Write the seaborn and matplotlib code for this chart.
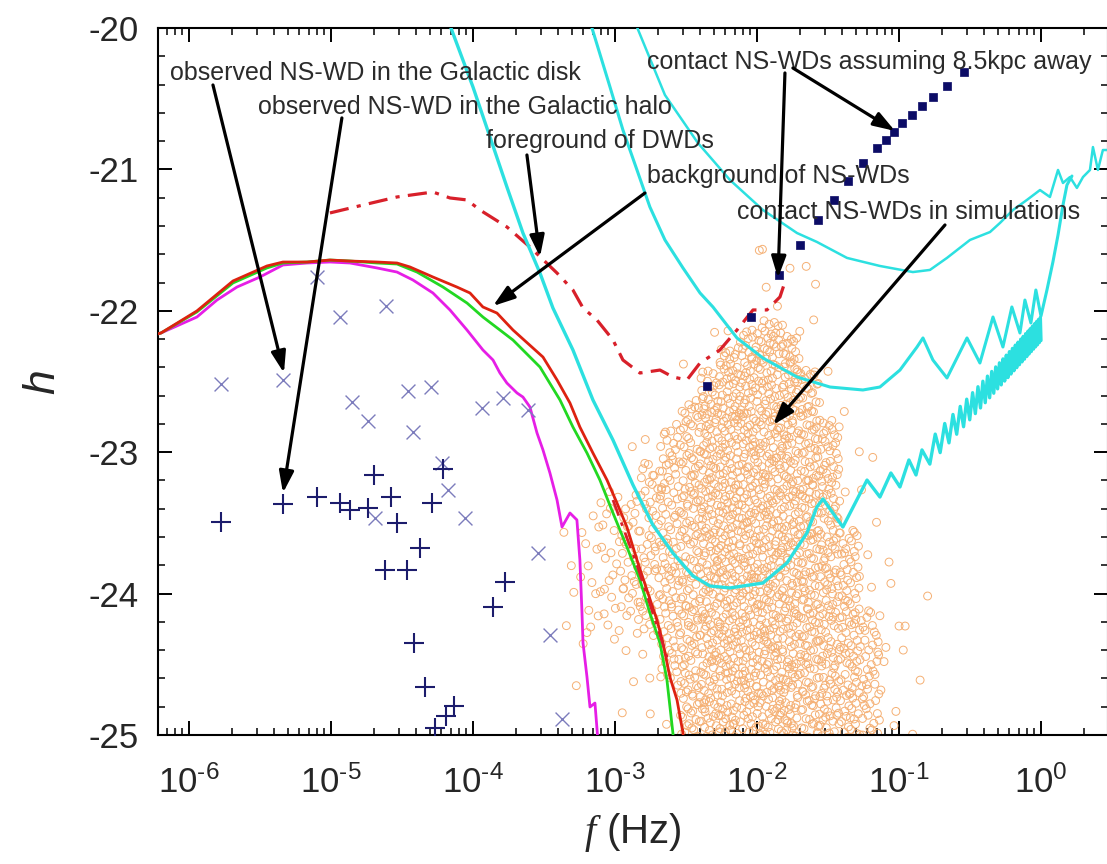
import numpy as np
import pandas as pd
import matplotlib
matplotlib.use("Agg")
import matplotlib.pyplot as plt
import seaborn as sns
from matplotlib.ticker import FixedLocator, LogLocator, MultipleLocator, FuncFormatter, NullFormatter

# ------------------------------------------------------------------
# Data: frequencies are stored as log10(f / Hz), strains as log10(h)
# ------------------------------------------------------------------

# NS-WD background curves (three population models)
magenta_logf = [-6.275, -6.197, -5.944, -5.803, -5.662, -5.500, -5.338, -5.169, -5.007, -4.866,
                -4.676, -4.535, -4.423, -4.282, -4.162, -4.042, -3.930, -3.859, -3.810, -3.761,
                -3.690, -3.648, -3.599, -3.549, -3.507, -3.458, -3.408, -3.373, -3.317, -3.268,
                -3.247, -3.233, -3.225, -3.197, -3.176, -3.141, -3.120]
magenta_h = [-22.178, -22.157, -22.044, -21.924, -21.832, -21.761, -21.676, -21.662, -21.655, -21.662,
             -21.697, -21.726, -21.782, -21.874, -21.994, -22.136, -22.277, -22.348, -22.440, -22.511,
             -22.581, -22.610, -22.680, -22.864, -22.984, -23.147, -23.338, -23.529, -23.430, -23.479,
             -23.762, -24.116, -24.349, -24.590, -24.802, -24.774, -25.040]

green_logf = [-6.275, -6.197, -5.944, -5.690, -5.451, -5.338, -5.169, -5.007, -4.866, -4.676,
              -4.535, -4.394, -4.211, -4.042, -3.930, -3.810, -3.718, -3.528, -3.387, -3.296,
              -3.197, -3.106, -3.014, -2.916, -2.824, -2.754, -2.683, -2.634, -2.592, -2.585]
green_h = [-22.178, -22.157, -22.008, -21.803, -21.697, -21.662, -21.655, -21.641, -21.648, -21.662,
           -21.669, -21.726, -21.832, -21.945, -22.044, -22.136, -22.207, -22.398, -22.631, -22.822,
           -23.006, -23.197, -23.430, -23.670, -23.904, -24.137, -24.349, -24.611, -24.986, -25.070]

red_logf = [-6.275, -6.197, -5.944, -5.690, -5.451, -5.338, -5.169, -5.007, -4.866, -4.676,
            -4.535, -4.444, -4.282, -4.113, -4.021, -3.930, -3.831, -3.718, -3.507, -3.408,
            -3.317, -3.247, -3.155, -3.056, -2.986, -2.916, -2.845, -2.775, -2.704, -2.662,
            -2.613, -2.563, -2.521, -2.514]
red_h = [-22.178, -22.157, -22.001, -21.789, -21.683, -21.655, -21.655, -21.641, -21.648, -21.655,
         -21.662, -21.690, -21.761, -21.832, -21.874, -21.973, -22.016, -22.136, -22.327, -22.489,
         -22.652, -22.822, -23.006, -23.197, -23.359, -23.529, -23.762, -23.975, -24.187, -24.349,
         -24.590, -24.752, -24.986, -25.070]

# DWD foreground (dash-dot)
dwd_logf = [-5.007, -4.775, -4.535, -4.282, -4.162, -4.042, -3.951, -3.761, -3.599, -3.408,
            -3.296, -3.225, -3.127, -3.014, -2.944, -2.824, -2.683, -2.592, -2.493, -2.401,
            -2.261, -2.141, -2.028, -1.930, -1.838, -1.810]
dwd_h = [-21.308, -21.252, -21.195, -21.160, -21.202, -21.216, -21.287, -21.407, -21.549, -21.733,
         -21.853, -21.980, -22.065, -22.206, -22.348, -22.440, -22.419, -22.468, -22.489, -22.369,
         -22.277, -22.136, -21.994, -21.994, -21.902, -21.817]
dwd_low_logf = [-3.014, -2.923, -2.838, -2.754, -2.683, -2.627]
dwd_low_h = [-23.338, -23.586, -23.819, -24.073, -24.293, -24.470]

# Detector sensitivity curves
det1_logf = [-4.176, -4.000, -3.880, -3.761, -3.648, -3.528, -3.437, -3.296, -3.155, -3.014,
             -2.873, -2.733, -2.592, -2.451, -2.331, -2.190, -1.958, -1.789, -1.648, -1.578,
             -1.535, -1.395, -1.225, -1.134, -1.057, -0.993, -0.930, -0.880, -0.838,
             -0.7825, -0.7447, -0.7100, -0.6778, -0.6478, -0.6198, -0.5935, -0.5687,
             -0.5452, -0.5229, -0.5017, -0.4815, -0.4622, -0.4437, -0.4260, -0.4090,
             -0.3926, -0.3768, -0.3615, -0.3468, -0.3326, -0.3188, -0.3054, -0.2925,
             -0.2799, -0.2676, -0.2557, -0.2441, -0.2329, -0.2219, -0.2111, -0.2007,
             -0.1905, -0.1805, -0.1707, -0.1612, -0.1518, -0.1427, -0.1337, -0.1250,
             -0.1164, -0.1079, -0.0997, -0.0915, -0.0836, -0.0757, -0.0681, -0.0605,
             -0.0531, -0.0458, -0.0386, -0.0315, -0.0246, -0.0178, -0.0110, -0.0044, 0.0]
det1_h = [-19.943, -20.417, -20.771, -21.124, -21.450, -21.733, -21.980, -22.277, -22.631, -22.914,
          -23.232, -23.515, -23.713, -23.875, -23.946, -23.960, -23.925, -23.783, -23.571, -23.387,
          -23.331, -23.529, -23.197, -23.317, -23.147, -23.246, -23.055, -23.161, -22.984,
          -23.084, -22.872, -23.003, -22.797, -22.934, -22.733, -22.873, -22.676,
          -22.820, -22.625, -22.771, -22.579, -22.727, -22.537, -22.687, -22.498,
          -22.650, -22.462, -22.615, -22.429, -22.583, -22.397, -22.552, -22.368,
          -22.524, -22.340, -22.497, -22.314, -22.472, -22.289, -22.447, -22.266,
          -22.424, -22.243, -22.402, -22.222, -22.381, -22.201, -22.361, -22.181,
          -22.342, -22.162, -22.323, -22.144, -22.305, -22.127, -22.288, -22.110,
          -22.271, -22.093, -22.255, -22.077, -22.240, -22.062, -22.224, -22.047, -22.210]

det2_logf = [-3.190, -3.035, -2.944, -2.845, -2.754, -2.648, -2.521, -2.401, -2.310, -2.141,
             -1.958, -1.718, -1.486, -1.254, -1.134, -0.993, -0.873, -0.831, -0.761, -0.662,
             -0.521, -0.430, -0.338, -0.268, -0.205, -0.148, -0.113, -0.071, -0.036, 0.000,
             0.042, 0.084, 0.120, 0.155, 0.183, 0.218]
det2_h = [-19.908, -20.417, -20.721, -21.004, -21.266, -21.499, -21.697, -21.874, -21.973, -22.192,
          -22.334, -22.468, -22.539, -22.560, -22.539, -22.419, -22.256, -22.192, -22.348, -22.475,
          -22.192, -22.369, -22.044, -22.256, -21.973, -22.157, -21.924, -22.086, -21.853, -22.037,
          -21.853, -21.655, -21.464, -21.252, -21.110, -21.047]

det3_logf = [-2.880, -2.648, -2.416, -2.190, -1.958, -1.718, -1.578, -1.366, -1.134, -0.902,
             -0.782, -0.662, -0.500, -0.359, -0.289, -0.197, -0.099, -0.007, 0.063, 0.120,
             0.155, 0.204, 0.253, 0.296, 0.345, 0.366, 0.401, 0.436, 0.500]
det3_h = [-19.908, -20.474, -20.813, -21.075, -21.287, -21.450, -21.513, -21.626, -21.683, -21.726,
          -21.711, -21.626, -21.499, -21.443, -21.379, -21.287, -21.216, -21.146, -21.195, -21.004,
          -21.096, -21.054, -21.131, -21.054, -21.004, -20.842, -21.004, -20.863, -20.863]

# Observed NS-WD binaries
disk_logf = [-5.775, -5.338, -5.099, -4.937, -4.613, -4.852, -4.739, -4.458, -4.296, -4.423,
             -3.937, -3.789, -3.613, -4.218, -4.176, -4.056, -4.690, -3.542, -3.458, -3.373]
disk_h = [-22.518, -22.489, -21.761, -22.044, -21.966, -22.645, -22.779, -22.567, -22.539, -22.857,
          -22.687, -22.617, -22.701, -23.076, -23.267, -23.465, -23.465, -23.713, -24.293, -24.887]

halo_logf = [-5.775, -5.338, -5.099, -4.937, -4.866, -4.739, -4.697, -4.578, -4.535, -4.289,
             -4.211, -4.373, -4.620, -4.465, -3.775, -3.859, -4.415, -4.338, -4.134, -4.190, -4.268]
halo_h = [-23.494, -23.366, -23.317, -23.359, -23.409, -23.395, -23.161, -23.317, -23.501, -23.359,
          -23.119, -23.677, -23.833, -23.833, -23.918, -24.095, -24.349, -24.660, -24.795, -24.865, -24.950]

# Contact NS-WDs placed at 8.5 kpc
contact_logf = [-0.542, -0.662, -0.761, -0.838, -0.909, -0.979, -1.035, -1.092, -1.155, -1.254,
                -1.359, -1.458, -1.571, -1.697, -1.845, -2.042, -2.352]
contact_h = [-20.311, -20.410, -20.488, -20.552, -20.615, -20.672, -20.735, -20.792, -20.848, -20.955,
             -21.082, -21.216, -21.358, -21.534, -21.747, -22.044, -22.532]

# Simulated contact NS-WDs: occupancy of the population per log-frequency bin
core_edges = [-2.965, -2.824, -2.683, -2.542, -2.401, -2.261, -2.120, -1.979, -1.838, -1.697,
              -1.557, -1.416, -1.275, -1.134]
core_top = [-23.338, -23.055, -22.843, -22.631, -22.419, -22.242, -22.136, -22.065, -22.136,
            -22.419, -22.772, -23.550, -24.116]
core_bottom = [-24.187, -24.328, -24.611, -25.05, -25.05, -25.05, -25.05, -25.05, -25.05,
               -25.05, -25.05, -25.05, -25.05]
core_count = [28, 50, 90, 145, 190, 210, 220, 220, 210, 180, 145, 90, 45]

halo_edges = [-3.387, -3.247, -3.106, -2.965, -2.824, -2.683, -2.542, -2.401, -2.261, -2.120,
              -1.979, -1.838, -1.697, -1.557, -1.416, -1.275, -1.134, -0.993, -0.782]
halo_top = [-23.479, -23.338, -23.267, -22.914, -22.772, -22.560, -22.277, -21.924, -21.782,
            -21.570, -21.428, -21.428, -21.641, -21.924, -22.489, -22.984, -23.692, -23.903]
halo_bottom = [-24.752, -24.399, -24.328, -24.894, -25.05, -25.05, -25.05, -25.05, -25.05,
               -25.05, -25.05, -25.05, -25.05, -25.05, -25.05, -25.05, -25.05, -25.05]
halo_count = [5, 14, 22, 10, 10, 10, 8, 8, 8, 10, 12, 12, 10, 8, 8, 8, 8, 5]

# Annotations: (text, text position, arrow tails, arrow heads)
notes = [
    ("observed NS-WD in the Galactic disk", (-6.134, -20.318), [((-5.831, -20.403), (-5.331, -22.440))]),
    ("observed NS-WD in the Galactic halo", (-5.514, -20.559), [((-4.923, -20.636), (-5.338, -23.288))]),
    ("foreground of DWDs", (-3.909, -20.799), [((-3.620, -20.898), (-3.528, -21.619))]),
    ("background of NS-WDs", (-2.775, -21.047), [((-2.789, -21.167), (-3.859, -21.966))]),
    ("contact NS-WDs in simulations", (-2.141, -21.301), [((-0.676, -21.393), (-1.887, -22.807))]),
    ("contact NS-WDs assuming 8.5kpc away", (-2.775, -20.240),
     [((-1.803, -20.318), (-1.852, -21.768)), ((-1.747, -20.283), (-1.028, -20.728))]),
]

decades = [-6, -5, -4, -3, -2, -1, 0]


def halton(i, base):
    f, r = 1.0, 0.0
    while i > 0:
        f /= base
        r += f * (i % base)
        i //= base
    return r


def spread(edges, tops, bottoms, counts, start):
    xs, ys = [], []
    k = start
    for j, n in enumerate(counts):
        for _ in range(n):
            k += 1
            u, v = halton(k, 2), halton(k, 3)
            xs.append(edges[j] + u * (edges[j + 1] - edges[j]))
            ys.append(tops[j] + v * (bottoms[j] - tops[j]))
    return xs, ys


cx1, cy1 = spread(core_edges, core_top, core_bottom, core_count, 1)
cx2, cy2 = spread(halo_edges, halo_top, halo_bottom, halo_count, 5000)
cloud = pd.DataFrame({"f": 10 ** np.array(cx1 + cx2), "h": cy1 + cy2})

# ------------------------------------------------------------------
# Figure
# ------------------------------------------------------------------
sns.set_theme(style="ticks")
plt.rcParams["font.family"] = ["Liberation Sans", "DejaVu Sans"]
plt.rcParams["mathtext.fontset"] = "custom"
plt.rcParams["mathtext.rm"] = "Liberation Sans"
plt.rcParams["mathtext.it"] = "Liberation Serif:italic"
plt.rcParams["mathtext.default"] = "regular"
plt.rcParams["axes.unicode_minus"] = False

fig = plt.figure(figsize=(11.07, 8.64), dpi=100)
ax = fig.add_axes([158 / 1107, 1 - 735 / 864, (1108 - 158) / 1107, (735 - 28) / 864])
ax.set_xscale("log")

sns.scatterplot(data=cloud, x="f", y="h", marker="o", s=32, facecolor="none",
                edgecolor="#f5b074", linewidth=0.7, ax=ax, zorder=2, legend=False)


def curve(lf, hv, color, lw, ls="-", z=3):
    d = pd.DataFrame({"f": 10 ** np.array(lf), "h": hv})
    sns.lineplot(data=d, x="f", y="h", sort=False, estimator=None, color=color,
                 linewidth=lw, linestyle=ls, ax=ax, zorder=z, legend=False)


dashdot = (0, (6, 2.6, 1.3, 2.6))
curve(magenta_logf, magenta_h, "#e61ee6", 2.0)
curve(green_logf, green_h, "#22d822", 2.0)
curve(red_logf, red_h, "#dd2210", 2.0)
curve(dwd_logf, dwd_h, "#d8202a", 2.3, dashdot)
curve(dwd_low_logf, dwd_low_h, "#d8202a", 2.0, dashdot)
curve(det1_logf, det1_h, "#2ce0e0", 2.4)
curve(det2_logf, det2_h, "#2ce0e0", 2.2)
curve(det3_logf, det3_h, "#2ce0e0", 1.8)

sns.scatterplot(x=10 ** np.array(disk_logf), y=disk_h, marker="x", s=100, color="#7c7cbc",
                linewidth=1.0, ax=ax, zorder=4, legend=False)
sns.scatterplot(x=10 ** np.array(halo_logf), y=halo_h, marker="+", s=210, color="#1c1c6c",
                linewidth=1.5, ax=ax, zorder=4, legend=False)
sns.scatterplot(x=10 ** np.array(contact_logf), y=contact_h, marker="s", s=38, color="#0c0c66",
                edgecolor="#0c0c66", linewidth=0.5, ax=ax, zorder=5, legend=False)

for text, (tx, ty), arrows in notes:
    ax.text(10 ** tx, ty, text, ha="left", va="center", fontsize=18, color="#2b2b2b", zorder=6)
    for (x0, y0), (x1, y1) in arrows:
        ax.annotate("", xy=(10 ** x1, y1), xytext=(10 ** x0, y0),
                    arrowprops=dict(arrowstyle="-|>,head_length=0.65,head_width=0.22",
                                    mutation_scale=20, lw=2.3, color="black",
                                    shrinkA=0, shrinkB=0), zorder=6)

ax.set_xlim(10 ** -6.218, 10 ** 0.472)
ax.set_ylim(-25, -20)

ax.xaxis.set_major_locator(FixedLocator([10.0 ** d for d in decades]))
ax.xaxis.set_minor_locator(LogLocator(base=10, subs=np.arange(2, 10), numticks=100))
ax.xaxis.set_minor_formatter(NullFormatter())
ax.xaxis.set_major_formatter(FuncFormatter(lambda v, p: r"$10^{\text{-}%d}$" % abs(round(np.log10(v)))
                                           if round(np.log10(v)) < 0 else r"$10^{0}$"))
ax.yaxis.set_major_locator(MultipleLocator(1))
ax.yaxis.set_minor_locator(MultipleLocator(0.2))
ax.yaxis.set_major_formatter(FuncFormatter(lambda v, p: "%d" % round(v)))

ax.tick_params(which="both", direction="in", top=True, right=True, color="black")
ax.tick_params(which="major", length=10, width=1.4, labelsize=25)
ax.tick_params(axis="y", which="major", pad=14)
ax.tick_params(axis="x", which="major", pad=22)
ax.tick_params(which="minor", length=5, width=1.1)
for s in ax.spines.values():
    s.set_linewidth(1.5)
    s.set_color("black")

ax.set_xlabel(r"$\mathit{f}$ (Hz)", fontsize=29, labelpad=8)
ax.set_ylabel("h", fontsize=32, fontstyle="italic", labelpad=18)

fig.savefig("out.png", dpi=100)
